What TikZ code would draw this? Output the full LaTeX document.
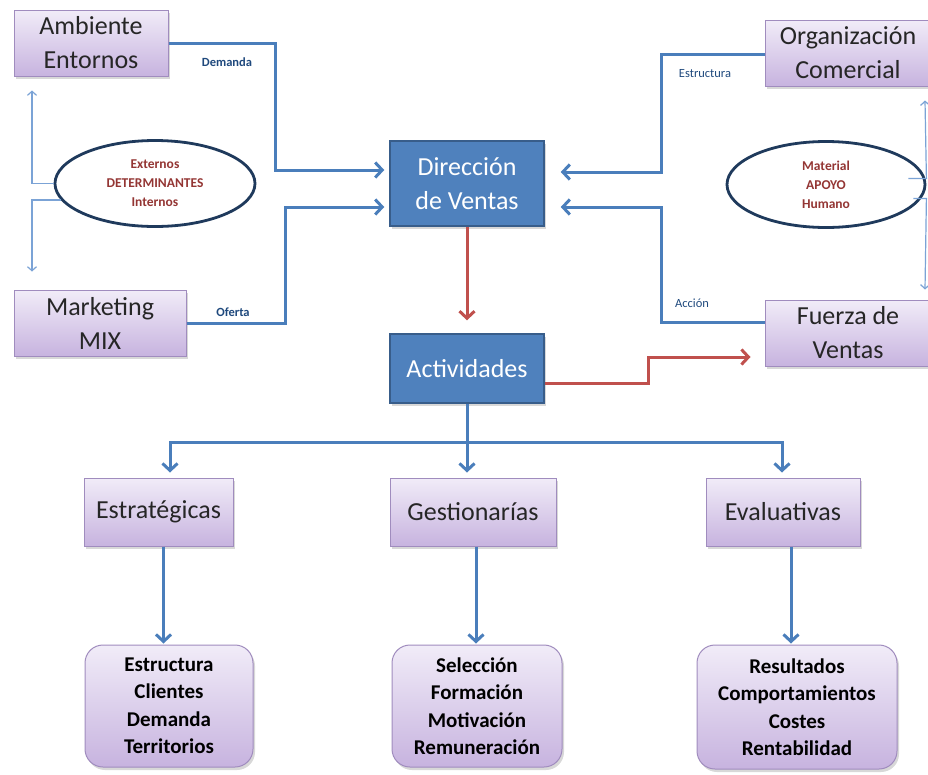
\documentclass[tikz,border=0pt]{standalone}
\usepackage{fontspec}
\setmainfont{Carlito}
\usetikzlibrary{arrows.meta,shadows,shapes.geometric}
\definecolor{boxpurpleT}{HTML}{F1ECF8}
\definecolor{boxpurpleB}{HTML}{C7B3DF}
\definecolor{boxedge}{HTML}{A08CBE}
\definecolor{dirblue}{HTML}{4F81BD}
\definecolor{diredge}{HTML}{385D8A}
\definecolor{flowblue}{HTML}{4A7EBB}
\definecolor{flowred}{HTML}{C0504D}
\definecolor{ovaledge}{HTML}{1F3A5C}
\definecolor{ovaltext}{HTML}{943634}
\definecolor{labelnavy}{HTML}{1F497D}
\definecolor{thinblue}{HTML}{7BA3D6}
\begin{document}
\begin{tikzpicture}[x=1pt,y=-1pt,
  lilac/.style={draw=boxedge, line width=1pt, top color=boxpurpleT, bottom color=boxpurpleB,
    drop shadow={opacity=0.3, shadow xshift=2pt, shadow yshift=-3pt},
    align=center, text=black!85, font=\fontsize{26}{34}\selectfont, inner sep=0pt},
  lilacround/.style={lilac, rounded corners=18pt, text=black,
    font=\bfseries\fontsize{21}{27.5}\selectfont},
  bluebox/.style={draw=diredge, line width=1.5pt, fill=dirblue, text=white,
    drop shadow={opacity=0.3, shadow xshift=2pt, shadow yshift=-3pt},
    align=center, font=\fontsize{26}{34}\selectfont, inner sep=0pt},
  oval/.style={ellipse, draw=ovaledge, line width=2.8pt, inner sep=0pt, align=center,
    text=ovaltext, font=\bfseries\fontsize{13.5}{19}\selectfont},
  flowb/.style={draw=flowblue, line width=3pt},
  flowr/.style={draw=flowred, line width=3pt},
  flowtip/.style={-{Straight Barb[length=7pt,width=15pt]}},
  thinb/.style={draw=thinblue, line width=1.2pt, -{Straight Barb[length=4pt,width=9pt]}},
  lbl/.style={text=labelnavy, font=\fontsize{12.5}{15}\selectfont, inner sep=0pt}]

\fill[white] (0,0) rectangle (928,774);
\useasboundingbox (0,0) rectangle (928,774);

% outer factors
\node[lilac, minimum width=154pt, minimum height=66pt] (amb) at (91,43) {Ambiente\\Entornos};
\node[lilac, minimum width=172pt, minimum height=66pt] (mkt) at (100,323) {Marketing\\MIX};
\node[lilac, minimum width=166pt, minimum height=66pt] (org) at (848,53) {Organización\\Comercial};
\node[lilac, minimum width=166pt, minimum height=66pt] (fza) at (848,333) {Fuerza de\\Ventas};

% central boxes
\node[bluebox, minimum width=154pt, minimum height=85pt] (dir) at (467,183.5) {Dirección\\de Ventas};
\node[bluebox, minimum width=154pt, minimum height=69pt] (act) at (467,368.5) {Actividades};

% ovals
\node[oval, minimum width=200pt, minimum height=86pt] (elL) at (155,183.5) {Externos\\DETERMINANTES\\Internos};
\node[oval, minimum width=198pt, minimum height=86pt] (elR) at (826,184.5) {Material\\APOYO\\Humano};

% activity types
\node[lilac, minimum width=149pt, minimum height=68pt] (est) at (158.5,512) {Estratégicas};
\node[lilac, minimum width=166pt, minimum height=68pt] (ges) at (473,512) {Gestionarías};
\node[lilac, minimum width=154pt, minimum height=68pt] (eva) at (783,512) {Evaluativas};

% detail boxes
\node[lilacround, minimum width=168pt, minimum height=122pt] (bl) at (169,706) {Estructura\\Clientes\\Demanda\\Territorios};
\node[lilacround, minimum width=170pt, minimum height=122pt] (bm) at (477,706) {Selección\\Formación\\Motivación\\Remuneración};
\node[lilacround, minimum width=200pt, minimum height=124pt] (br) at (797,707) {Resultados\\Comportamientos\\Costes\\Rentabilidad};

% inputs to Dirección de Ventas
\draw[flowb, flowtip, shorten >=5pt] (amb.east) -- ++(107,0) |- ([yshift=13.5pt]dir.west);
\draw[flowb, flowtip, shorten >=5pt] (mkt.east) -- ++(99,0) |- ([yshift=-23.5pt]dir.west);
\draw[flowb, flowtip, shorten >=16pt] ([yshift=-1pt]org.west) -- ++(-103,0) |- ([yshift=11.5pt]dir.east);
\draw[flowb, flowtip, shorten >=16pt] ([yshift=11pt]fza.west) -- ++(-103,0) |- ([yshift=-23.5pt]dir.east);

\node[lbl] (tDem) at (227,62) {\bfseries Demanda};
\node[lbl] (tOfe) at (233,312) {\bfseries Oferta};
\node[lbl] (tEst) at (705,74) {Estructura};
\node[lbl] (tAcc) at (692,303) {Acción};

% red flows
\draw[flowr, flowtip, shorten >=13pt] (dir.south) -- (act.north);
\draw[flowr, flowtip, shorten >=14pt] ([yshift=-14.5pt]act.east) -- ++(104,0) |- ([yshift=-24pt]fza.west);

% split into activity types
\coordinate (tl) at (170,442);
\coordinate (tr) at (782,442);
\draw[flowb] (act.south) -- (act.south |- tl);
\draw[flowb, {Straight Barb[length=7pt,width=15pt]}-{Straight Barb[length=7pt,width=15pt]}, shorten <=5pt, shorten >=5pt]
  (tl |- est.north) -- (tl) -- (tr) -- (tr |- eva.north);
\draw[flowb, flowtip, shorten >=5pt] (act.south |- tl) -- (act.south |- ges.north);

% details
\draw[flowb, flowtip, shorten >=1pt] ([xshift=5pt]est.south) -- ([xshift=5pt]est.south |- bl.north);
\draw[flowb, flowtip, shorten >=1pt] ([xshift=3pt]ges.south) -- ([xshift=3pt]ges.south |- bm.north);
\draw[flowb, flowtip, shorten >=1pt] ([xshift=8pt]eva.south) -- ([xshift=8pt]eva.south |- br.north);

% thin double guides beside the ovals
\draw[thinb] (elL.west) -| ([xshift=-59pt,yshift=-14pt]amb.south);
\draw[thinb] (elL.190) -| ([xshift=-68pt,yshift=18pt]mkt.north);
\draw[thinb] ([shift={(-18pt,6pt)}]elR.east) -- ([yshift=6pt]elR.east) -- ([xshift=77pt,yshift=-14pt]org.south);
\draw[thinb] ([shift={(-13pt,-14pt)}]elR.east) -- ([yshift=-14pt]elR.east) -- ([xshift=77pt,yshift=10pt]fza.north);
\end{tikzpicture}
\end{document}
